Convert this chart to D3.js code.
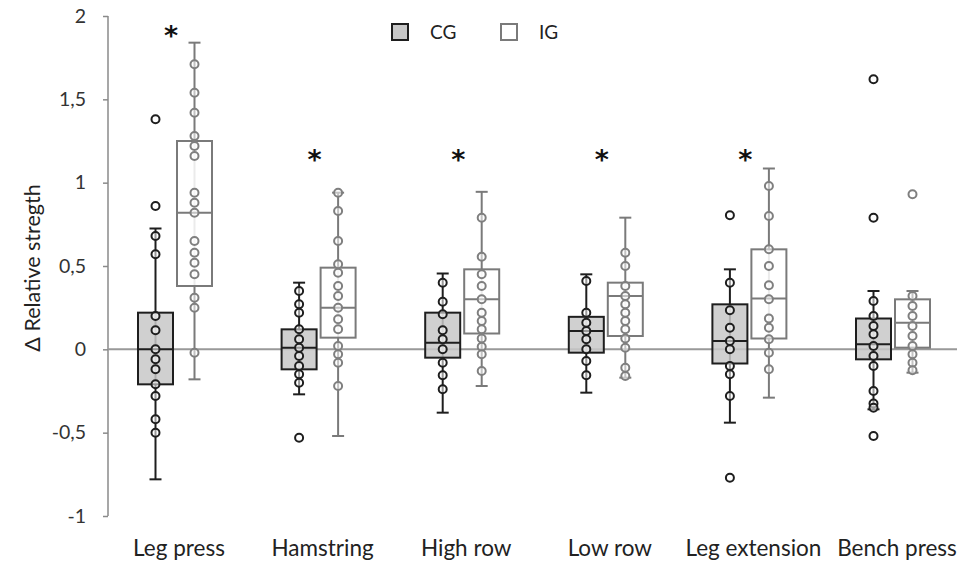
<!DOCTYPE html>
<html><head><meta charset="utf-8">
<script src="https://cdn.jsdelivr.net/npm/d3@7"></script>
<style>body{margin:0;background:#fff}svg{display:block}text{font-family:Lato,"Open Sans",sans-serif}</style>
</head><body>
<svg id="c" width="957" height="562"></svg>
<script>
const categories = ["Leg press","Hamstring","High row","Low row","Leg extension","Bench press"];
const yTicks = [-1,-0.5,0,0.5,1,1.5,2];
const yTickLabels = ["-1","-0,5","0","0,5","1","1,5","2"];
const seriesNames = ["CG","IG"];

// CG box stats
const cgMin = [-0.78,-0.27,-0.38,-0.26,-0.44,-0.36];
const cgQ1  = [-0.21,-0.12,-0.05,-0.02,-0.085,-0.06];
const cgMed = [0.0,0.01,0.04,0.11,0.05,0.03];
const cgQ3  = [0.22,0.12,0.22,0.195,0.27,0.185];
const cgMax = [0.725,0.40,0.455,0.45,0.48,0.35];
const cgPoints = [
  [1.38,0.86,0.68,0.57,0.2,0.115,0.0,-0.06,-0.12,-0.21,-0.28,-0.42,-0.5],
  [0.35,0.27,0.22,0.12,0.06,0.01,-0.04,-0.10,-0.15,-0.2,-0.53],
  [0.40,0.285,0.21,0.115,0.06,0.0,-0.08,-0.155,-0.24],
  [0.41,0.22,0.16,0.11,0.06,0.0,-0.07,-0.155],
  [0.805,0.40,0.235,0.13,0.05,0.0,-0.10,-0.15,-0.28,-0.77],
  [1.62,0.79,0.29,0.20,0.14,0.09,0.02,-0.04,-0.10,-0.25,-0.325,-0.35,-0.52]
];
// IG box stats
const igMin = [-0.18,-0.52,-0.22,-0.17,-0.29,-0.14];
const igQ1  = [0.38,0.07,0.095,0.08,0.065,0.01];
const igMed = [0.82,0.25,0.30,0.32,0.305,0.16];
const igQ3  = [1.25,0.49,0.48,0.40,0.60,0.30];
const igMax = [1.84,0.94,0.945,0.79,1.085,0.35];
const igPoints = [
  [1.71,1.54,1.42,1.28,1.22,1.16,0.94,0.88,0.82,0.65,0.58,0.52,0.45,0.31,0.25,-0.02],
  [0.94,0.83,0.65,0.51,0.46,0.38,0.32,0.25,0.18,0.12,0.02,-0.03,-0.08,-0.22],
  [0.79,0.555,0.45,0.38,0.30,0.22,0.17,0.12,0.065,0.015,-0.03,-0.13],
  [0.58,0.50,0.38,0.32,0.27,0.22,0.17,0.12,0.065,0.01,-0.11,-0.16],
  [0.98,0.80,0.60,0.50,0.385,0.30,0.185,0.13,0.06,-0.02,-0.12],
  [0.93,0.32,0.26,0.20,0.14,0.08,0.02,-0.03,-0.08,-0.125]
];
const sigMarks = ["*","*","*","*","*",""];
const sigY = [1.92,1.18,1.18,1.18,1.18,0];

const svg = d3.select("#c");
const x = d3.scalePoint().domain(categories).range([175,893]);
const y = d3.scaleLinear().domain([-1,2]).range([516,16]);
const axisX = 108, off = 19.5, bw = 35, cap = 6;

// y axis
svg.append("line").attr("x1",axisX).attr("x2",axisX).attr("y1",y(-1)).attr("y2",y(2))
  .attr("stroke","#8a8a8a").attr("stroke-width",1.5);
const yAxis = d3.axisLeft(y).tickValues(yTicks).tickSize(5).tickFormat((d,i)=>yTickLabels[i]);
const gA = svg.append("g").attr("transform",`translate(${axisX},0)`).call(yAxis);
gA.select(".domain").remove();
gA.selectAll(".tick line").attr("stroke","#8a8a8a").attr("stroke-width",1.5);
gA.selectAll(".tick text").attr("x",-22).attr("font-size",19.5).attr("fill","#333")
  .style("font-family","Lato,'Open Sans',sans-serif");

// zero line
svg.append("line").attr("x1",axisX).attr("x2",957).attr("y1",y(0)).attr("y2",y(0))
  .attr("stroke","#999").attr("stroke-width",2);

// y title
svg.append("text").attr("transform",`translate(40,${268}) rotate(-90)`)
  .attr("text-anchor","middle").attr("font-size",21.5).attr("fill","#222").text("Δ Relative stregth");

// category labels
svg.selectAll(".cat").data(categories).enter().append("text")
  .attr("x",d=>x(d)+4).attr("y",556).attr("text-anchor","middle")
  .attr("font-size",22.5).attr("fill","#222").text(d=>d);

function drawSeries(mins,q1,med,q3,maxs,pts,dx,stroke,fill,ptStroke){
  const g = svg.append("g");
  categories.forEach((c,i)=>{
    const cx = x(c)+dx;
    g.append("line").attr("x1",cx).attr("x2",cx).attr("y1",y(maxs[i])).attr("y2",y(mins[i]))
      .attr("stroke",stroke).attr("stroke-width",2);
    [mins[i],maxs[i]].forEach(v=>g.append("line").attr("x1",cx-cap).attr("x2",cx+cap)
      .attr("y1",y(v)).attr("y2",y(v)).attr("stroke",stroke).attr("stroke-width",2));
    g.append("rect").attr("x",cx-bw/2).attr("width",bw).attr("y",y(q3[i]))
      .attr("height",y(q1[i])-y(q3[i])).attr("fill",fill).attr("fill-opacity",0.85)
      .attr("stroke",stroke).attr("stroke-width",2);
    g.append("line").attr("x1",cx-bw/2).attr("x2",cx+bw/2).attr("y1",y(med[i])).attr("y2",y(med[i]))
      .attr("stroke",stroke).attr("stroke-width",2);
    pts[i].forEach(v=>g.append("circle").attr("cx",cx).attr("cy",y(v)).attr("r",4)
      .attr("fill","#fff").attr("fill-opacity",0.55).attr("stroke",ptStroke).attr("stroke-width",2));
  });
}
drawSeries(cgMin,cgQ1,cgMed,cgQ3,cgMax,cgPoints,-off,"#1e1e1e","#c8c8c8","#1e1e1e");
drawSeries(igMin,igQ1,igMed,igQ3,igMax,igPoints,off,"#7a7a7a","#ffffff","#7f7f7f");

// significance
svg.selectAll(".sig").data(categories).enter().append("text")
  .attr("x",d=>x(d)-4).attr("y",(d,i)=>y(sigY[i])+16).attr("text-anchor","middle")
  .style("font-family","'DejaVu Sans',sans-serif").attr("font-weight","bold")
  .attr("font-size",27).attr("fill","#111").text((d,i)=>sigMarks[i]);

// legend
const legX = [392,501], legFill = ["#c8c8c8","#ffffff"], legStroke = ["#1e1e1e","#7a7a7a"];
seriesNames.forEach((s,i)=>{
  svg.append("rect").attr("x",legX[i]).attr("y",24).attr("width",16).attr("height",16)
    .attr("fill",legFill[i]).attr("stroke",legStroke[i]).attr("stroke-width",2);
  svg.append("text").attr("x",legX[i]+38).attr("y",39).attr("font-size",19).attr("fill","#222").text(s);
});
</script>
</body></html>
